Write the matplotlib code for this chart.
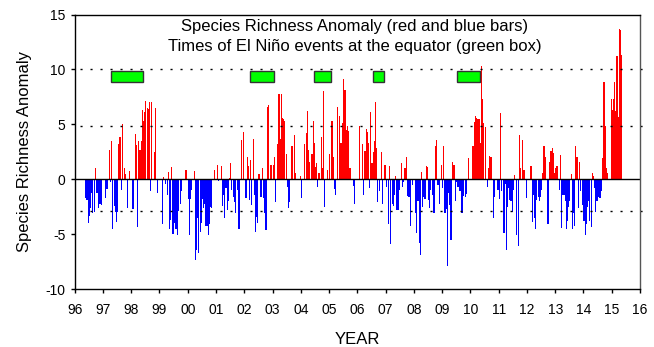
import numpy as np
import matplotlib.pyplot as plt
from matplotlib.patches import Rectangle

plt.rcParams['font.family'] = ['Liberation Sans', 'DejaVu Sans']
plt.rcParams['axes.unicode_minus'] = False

# species richness anomaly, 24 samples per year (half months), 1996 - 2015
y96 = [0, 0, 0, 0, 0, 0, 0, 0, 0, -1.7, -1.9, -4.0, -3.3, -2.6, -1.2, -3.1, -3.0, 1.0, -1.2, -1.2, -2.6, -2.2, -2.3, 0]
y97 = [0, 0, -1.7, -0.9, 0, 2.7, -0.2, 3.5, -4.5, -2.4, -3.0, -3.9, -3.0, 3.2, 3.9, -1.0, 5.0, 0, 1.0, 0.5, -2.6, 0, 0.8, 0]
y98 = [0, -2.7, 0, 4.1, 3.1, -4.3, 3.5, 2.7, 3.5, 6.3, 5.3, 6.1, 7.1, 6.5, 6.4, 7.0, -1.1, 7.0, 0, 2.5, 6.5, 0, -1.2, 0]
y99 = [0, 0, -4.1, 0.25, 0, -0.4, -1.4, 0.7, -4.5, -3.7, 1.1, -5.0, -4.0, -4.5, -4.5, -5.1, -2.9, -2.2, -1.1, 0, 0, 0, 0.85, 0]
y00 = [-1.8, -5.1, -1.8, -1.0, 0, 0.75, -7.3, -6.4, -3.5, -6.7, -4.8, -4.0, -1.8, -2.6, -2.2, -4.2, -4.2, -5.1, -4.1, -2.5, -2.6, 0, 0.85, 0]
y01 = [0, 1.35, -0.15, 0, 1.2, -2.4, -1.4, -3.5, -0.8, -2.8, -2.0, 0.1, 1.45, -1.0, -1.6, -2.1, -3.1, 0, -1.0, -4.5, 0, 3.6, 0, 4.3]
y02 = [0, -1.7, 2.0, 1.2, -1.9, 1.75, -2.3, 3.7, -1.4, -4.8, -3.4, -4.0, 0.45, -1.6, -1.6, 1.0, -1.7, -3.1, -4.6, 6.6, 6.8, 0, 1.35, 1.3]
y03 = [1.3, 2.0, -2.1, 0, 3.2, 7.8, 3.7, 7.75, 5.6, 5.5, 5.3, 2.3, -0.7, -2.6, -2.1, 0, 3.0, 0, 4.0, 0.55, 0, 0, 0, 0.35]
y04 = [-1.7, 0, 0, 3.2, 4.25, 6.2, 2.7, 1.6, 0, 2.3, 5.3, 3.3, 1.1, 1.45, -0.7, 0.55, 0, 3.9, 1.0, 8.0, -2.5, 0, 0.85, 0]
y05 = [2.3, 0, 5.3, 2.0, -0.9, -1.4, 0, 6.6, 5.8, 3.3, 3.3, 5.1, 9.1, 8.1, 4.5, 4.9, 4.4, 1.0, 1.0, 0, -0.6, -2.2, 0, 0]
y06 = [0, 4.9, 0, 0, 3.2, -1.4, 2.6, 4.6, 4.3, 3.3, -0.8, 6.1, 1.45, 2.5, 3.5, 7.0, 2.9, -2.1, -1.1, 0, 2.5, -2.2, 0, 1.3]
y07 = [-0.7, 0, -4.1, 1.2, -5.9, -2.2, -2.4, -1.4, 0.3, -2.8, -2.8, -1.0, 0, 1.45, -0.7, -0.2, 1.0, 2.0, -1.5, -1.6, -1.6, -4.2, -0.5, 0]
y08 = [0, -3.1, -4.9, -2.0, -5.8, -6.9, 0.7, -2.5, -1.6, -1.8, 1.2, 1.1, -1.9, -2.6, -1.0, -1.4, -3.1, -3.1, 3.0, 3.6, -0.5, -2.2, 0, 1.3]
y09 = [-0.8, 3.0, -3.1, -2.7, -7.9, -1.2, -2.3, -5.5, 1.6, 1.3, 1.3, -2.0, -0.2, -0.7, -1.1, -1.1, -3.1, -3.1, -1.5, -1.6, -1.3, 0, 1.9, 0]
y10 = [0, 3.0, 3.0, 5.2, 5.8, 5.6, 5.5, 5.5, 3.3, 10.3, 7.3, 5.1, 4.8, 0, -0.7, 1.0, 2.1, 2.0, 0, -3.5, -1.6, 0, 0, -1.0]
y11 = [-1.8, 6.0, -1.1, 0, -4.9, -0.4, -6.4, -2.5, -0.8, -1.9, -2.0, -3.0, -1.0, 0.4, 0, -5.1, -6.1, 4.0, 1.0, 0, 3.6, 0.85, 0, -1.7]
y12 = [0, 0, -0.1, 1.2, -3.9, -1.4, -3.5, -4.5, -1.9, -1.6, -2.0, -1.6, -1.0, 0.55, 3.0, 2.0, 0, -4.1, -4.1, 1.6, 2.6, 2.9, 2.4, 0.55]
y13 = [1.0, 1.2, 0, -1.0, 2.2, -4.4, -1.4, -1.4, -2.0, -4.5, -3.8, -2.5, -2.0, 0.45, -4.5, -3.1, -4.2, 3.0, 2.0, -2.6, 1.6, -1.1, 0, -2.3]
y14 = [-3.8, -5.1, -4.1, -2.5, -2.0, -3.8, -4.3, 0.6, 0.3, -0.8, -3.0, -2.0, -1.6, -1.7, -1.7, -1.1, 1.9, 8.9, 4.9, 1.0, 0.55, 0, 0, 7.3]
y15 = [6.3, 7.3, 8.9, 6.2, 11.2, 5.7, 13.7, 13.6, 11.3, 0, 0, 0, 0, 0, 0, 0, 0, 0, 0, 0, 0, 0, 0, 0]

per_year = 24
first_year = 1996

# El Nino events (start, end) in decimal years
nino_start = [1997.3, 2002.2, 2004.47, 2006.55, 2009.51]
nino_end = [1998.4, 2003.05, 2005.08, 2006.94, 2010.35]

# dotted reference levels
ref_levels = [10, 4.87, -2.85]

tick_years = list(range(1996, 2017))
tick_labels = ['%02d' % (y % 100) for y in tick_years]

anomaly = np.array(y96 + y97 + y98 + y99 + y00 + y01 + y02 + y03 + y04 + y05 +
                   y06 + y07 + y08 + y09 + y10 + y11 + y12 + y13 + y14 + y15)
t = first_year + np.arange(len(anomaly)) / per_year
cols = np.where(anomaly >= 0, '#ff0000', '#0000ff')

fig = plt.figure(figsize=(6.54, 3.47), dpi=100)
ax = fig.add_axes([0.1142, 0.1663, 0.8644, 0.7919])

ax.bar(t, anomaly, width=0.95 / per_year, align='edge', color=cols, linewidth=0)
ax.axhline(0, color='black', lw=1.0)

for v in ref_levels:
    ax.plot([1996.2, 2016.2], [v, v], color='black', lw=1.0,
            linestyle=(0, (1.5, 5.7)), clip_on=False)

for s, e in zip(nino_start, nino_end):
    ax.add_patch(Rectangle((s, 8.9), e - s, 1.0, facecolor='#00ff00',
                           edgecolor='#333333', lw=1.0, zorder=3))

ax.text(2005.9, 13.48, 'Species Richness Anomaly (red and blue bars)',
        ha='center', va='baseline', fontsize=12)
ax.text(2005.9, 11.66, 'Times of El Ni\u00f1o events at the equator (green box)',
        ha='center', va='baseline', fontsize=12)

ax.set_xlim(1996, 2016)
ax.set_ylim(-10, 15)
ax.set_xticks(tick_years)
ax.set_xticklabels(tick_labels)
ax.set_yticks([-10, -5, 0, 5, 10, 15])
ax.tick_params(direction='out', length=3, width=1, labelsize=10)
ax.tick_params(axis='x', pad=7)
ax.spines['right'].set_color('#555555')
for sp in ax.spines.values():
    sp.set_linewidth(1.0)

ax.set_xlabel('YEAR', fontsize=12)
ax.set_ylabel('Species Richness Anomaly', fontsize=12)
ax.xaxis.set_label_coords(0.5, -0.155)
ax.yaxis.set_label_coords(-0.075, 0.5)

fig.savefig('out.png', dpi=100)
